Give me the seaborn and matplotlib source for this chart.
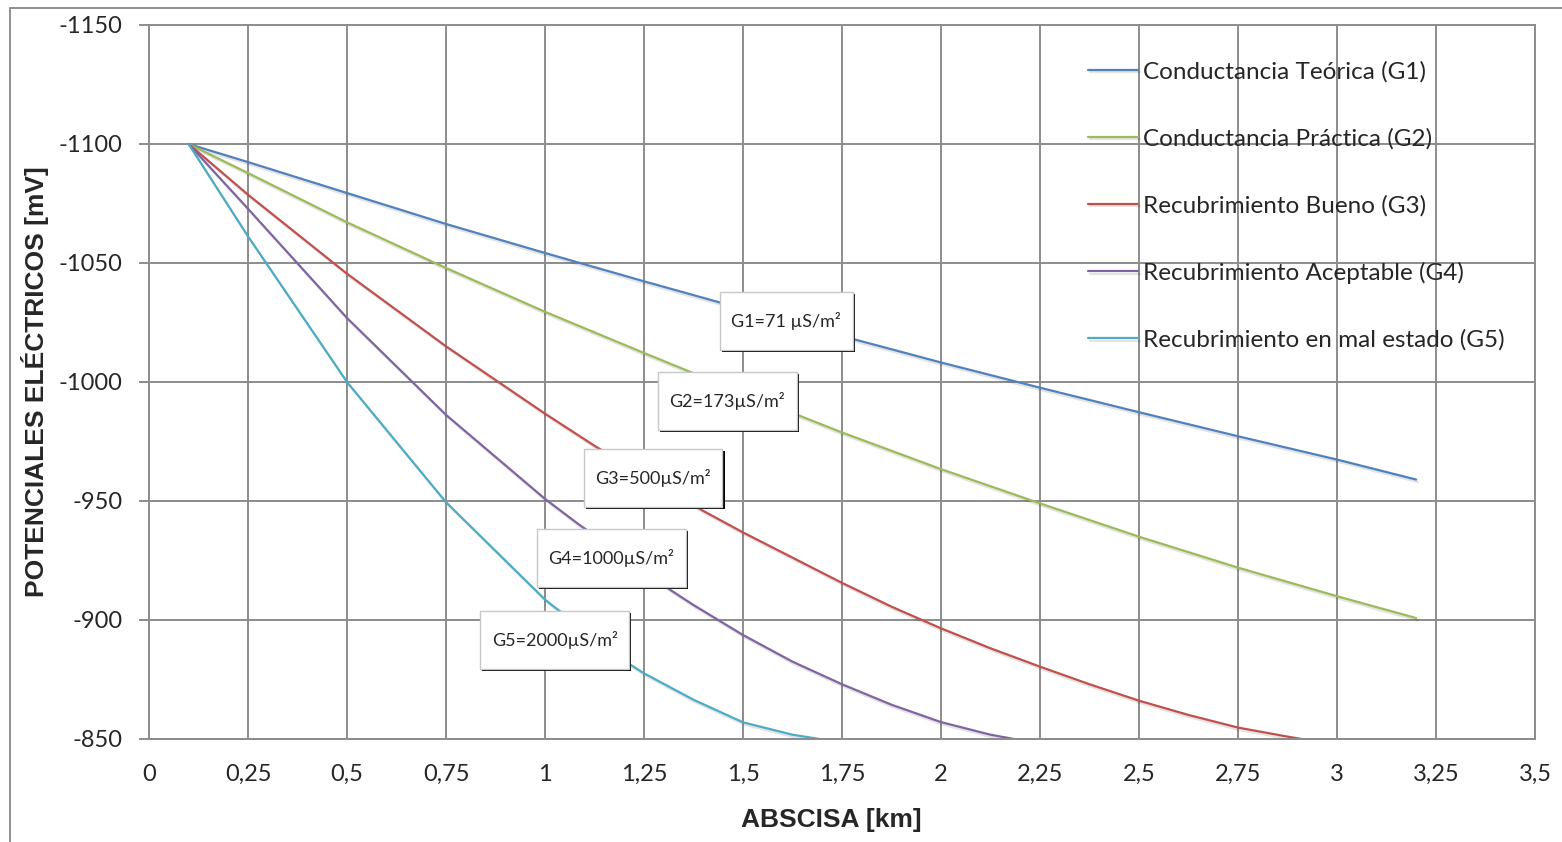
import matplotlib
matplotlib.use('Agg')
import matplotlib.pyplot as plt
import matplotlib.patheffects as pe
from matplotlib.path import Path
from matplotlib.ticker import FuncFormatter, MultipleLocator
import seaborn as sns
import pandas as pd

# Abscisa [km] y potenciales [mV] (las curvas parten de 0,1 km).
# Los ultimos puntos de G3-G5 quedan fuera del eje y se recortan en -850.
X_G1 = [0.1, 0.25, 0.5, 0.75, 1.0, 1.25, 1.5, 1.75, 2.0, 2.25, 2.5, 2.75, 3.0, 3.2]
G1 = [-1100, -1092.4, -1079.4, -1066.4, -1054.2, -1042.3, -1030.7, -1019.3,
      -1008.2, -997.6, -987.3, -977.2, -967.4, -959]

X_G2 = [0.1, 0.25, 0.5, 0.75, 1.0, 1.25, 1.5, 1.75, 2.0, 2.25, 2.5, 2.75, 3.0, 3.2]
G2 = [-1100, -1087.8, -1067.1, -1047.9, -1029.5, -1012.2, -995.2, -978.8,
      -963.4, -949.0, -935.0, -922.0, -910.0, -900.8]

X_G3 = [0.1, 0.25, 0.5, 0.75, 1.0, 1.126, 1.25, 1.4, 1.5, 1.75, 1.875, 2.0, 2.125,
        2.25, 2.375, 2.5, 2.625, 2.75, 2.875, 3.0]
G3 = [-1100, -1078.7, -1045.5, -1015.0, -986.7, -973.1, -961.0, -945.8, -936.8,
      -915.6, -905.6, -896.5, -888.1, -880.4, -873.0, -866.1, -860.1, -854.8,
      -851.0, -847.5]

X_G4 = [0.1, 0.25, 0.5, 0.75, 1.0, 1.085, 1.25, 1.316, 1.375, 1.5, 1.625, 1.75,
        1.875, 2.0, 2.125, 2.25]
G4 = [-1100, -1072.8, -1026.9, -986.2, -950.9, -940.2, -921.0, -912.7, -906.3,
      -893.7, -882.5, -873.0, -864.4, -857.1, -851.8, -848.0]

X_G5 = [0.1, 0.25, 0.5, 0.75, 1.0, 1.021, 1.215, 1.25, 1.375, 1.5, 1.625, 1.75]
G5 = [-1100, -1061.2, -1000.0, -949.5, -908.6, -905.8, -881.3, -877.6, -866.5,
      -857.0, -851.8, -848.5]

SERIES = ['Conductancia Teórica (G1)', 'Conductancia Práctica (G2)',
          'Recubrimiento Bueno (G3)', 'Recubrimiento Aceptable (G4)',
          'Recubrimiento en mal estado (G5)']
COLORES = ['#4F81BD', '#9BBB59', '#C0504D', '#8064A2', '#4BACC6']

ETIQUETAS = ['G1=71 µS/m²', 'G2=173µS/m²', 'G3=500µS/m²', 'G4=1000µS/m²', 'G5=2000µS/m²']
ETQ_X = [1.609, 1.460, 1.273, 1.167, 1.025]
ETQ_Y = [-1025.6, -992.0, -959.7, -926.0, -891.6]

GRIS = '#8c8c8c'

sns.set_theme(style='white')
plt.rcParams['font.family'] = ['Lato', 'DejaVu Sans']


def caja(x0, y0, width, height, mutation_size):
    """Rectangulo con mas relleno vertical que horizontal (como Excel)."""
    padx = 0.64 * mutation_size
    pady = 1.12 * mutation_size
    x0, y0 = x0 - padx, y0 - pady
    x1, y1 = x0 + width + 2 * padx, y0 + height + 2 * pady
    return Path([(x0, y0), (x1, y0), (x1, y1), (x0, y1), (x0, y0)], closed=True)


filas = []
for nombre, xs, valores in zip(SERIES, [X_G1, X_G2, X_G3, X_G4, X_G5], [G1, G2, G3, G4, G5]):
    for x, v in zip(xs, valores):
        filas.append({'abscisa': x, 'potencial': v, 'serie': nombre})
df = pd.DataFrame(filas)

fig = plt.figure(figsize=(15.62, 8.42), dpi=100)
ax = fig.add_axes([149 / 1562, 1 - 739 / 842, (1535 - 149) / 1562, (739 - 25) / 842])

sns.lineplot(data=df, x='abscisa', y='potencial', hue='serie', hue_order=SERIES,
             palette=dict(zip(SERIES, COLORES)), estimator=None, sort=False,
             linewidth=1.6, ax=ax)

for ln in ax.get_lines():
    ln.set_path_effects([pe.SimpleLineShadow(offset=(1.2, -1.8), shadow_color='k', alpha=0.12),
                         pe.Normal()])

ax.set_xlim(0, 3.5)
ax.set_ylim(-850, -1150)
ax.xaxis.set_major_locator(MultipleLocator(0.25))
ax.yaxis.set_major_locator(MultipleLocator(50))
ax.xaxis.set_major_formatter(FuncFormatter(lambda v, p: f'{v:g}'.replace('.', ',')))
ax.yaxis.set_major_formatter(FuncFormatter(lambda v, p: f'{v:.0f}'))

ax.set_axisbelow(True)
ax.grid(True, color=GRIS, linewidth=1.4)
for s in ax.spines.values():
    s.set_color(GRIS)
    s.set_linewidth(1.4)
ax.tick_params(axis='y', length=7, width=1.4, color=GRIS, pad=12, labelsize=17, left=True)
ax.tick_params(axis='x', length=0, pad=18, labelsize=17)

ax.set_xlabel('ABSCISA [km]', fontsize=19, fontweight='bold', family='Liberation Sans')
ax.set_ylabel('POTENCIALES ELÉCTRICOS [mV]', fontsize=19, fontweight='bold',
              family='Liberation Sans')
ax.xaxis.set_label_coords(0.492, -0.097)
ax.yaxis.set_label_coords(-0.072, 0.501)

handles, labels = ax.get_legend_handles_labels()
ax.legend(handles, labels, loc='upper left', bbox_to_anchor=(0.6775, 0.950),
          frameon=False, fontsize=17.5, borderpad=0, borderaxespad=0,
          handlelength=2.06, handletextpad=0.2, labelspacing=1.87)

for txt, x, y in zip(ETIQUETAS, ETQ_X, ETQ_Y):
    t = ax.text(x, y, txt, ha='center', va='center', fontsize=13, zorder=5,
                bbox=dict(boxstyle=caja, facecolor='white', edgecolor='#c8c8c8', linewidth=1))
    t.get_bbox_patch().set_path_effects([
        pe.SimplePatchShadow(offset=(1.5, -1.5), shadow_rgbFace='black', alpha=1),
        pe.Normal()])

# marco exterior del grafico
fig.add_artist(plt.Rectangle((10 / 1562, -0.1), 1.2, 1 - 8 / 842 + 0.1,
                             transform=fig.transFigure, fill=False,
                             edgecolor='#868686', linewidth=1.3))

fig.savefig('out.png', dpi=100)
